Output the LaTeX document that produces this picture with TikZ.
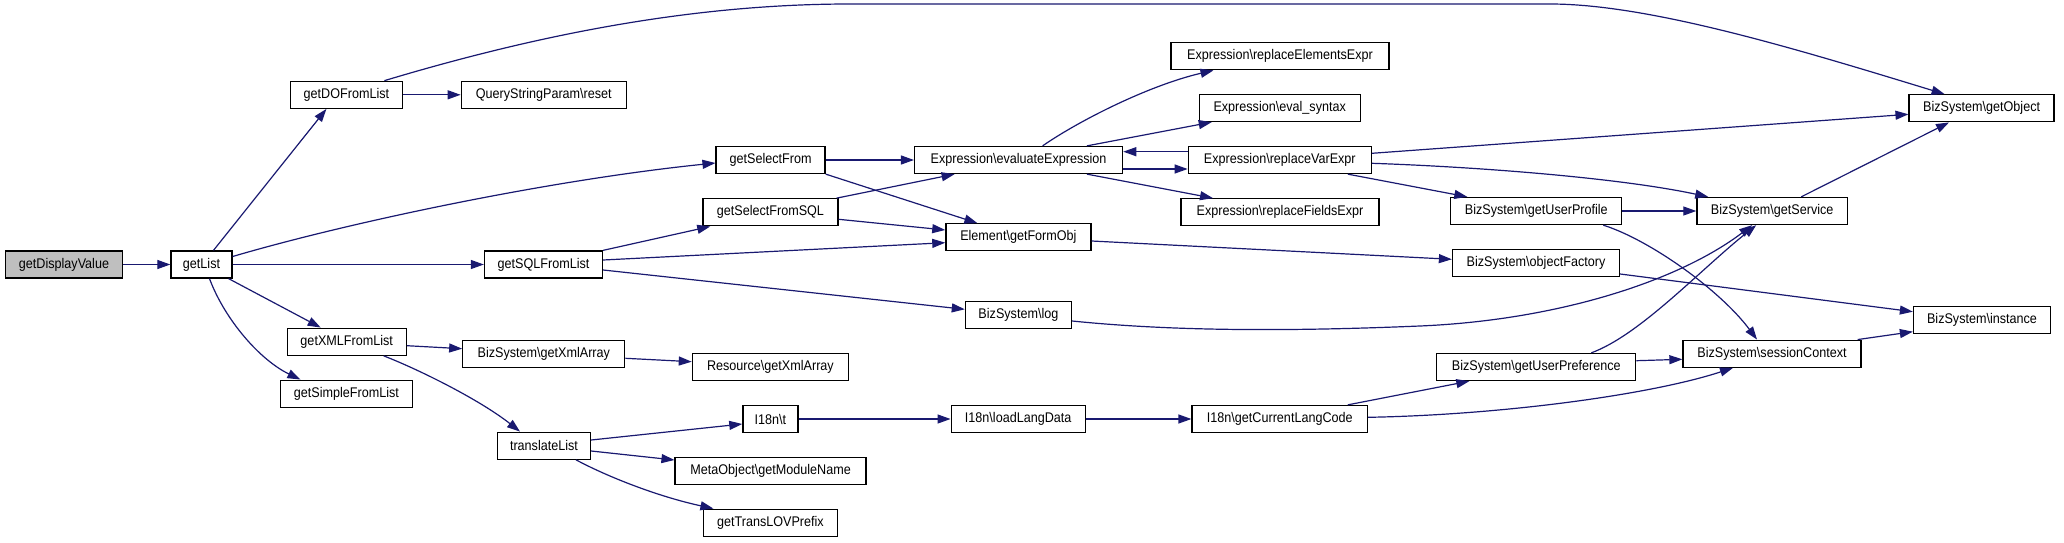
\documentclass[tikz,border=0pt]{standalone}
\usepackage{fontspec}
\setmainfont[FakeStretch=0.9]{Liberation Sans}
\usetikzlibrary{arrows.meta}
\definecolor{edgeblue}{HTML}{191970}
\definecolor{rootgray}{HTML}{BFBFBF}
\tikzset{
  box/.style={draw=black, line width=1.3pt, fill=white, minimum height=27pt, inner sep=0pt, font=\fontsize{14}{16}\selectfont},
  rootbox/.style={box, fill=rootgray},
  e/.style={draw=edgeblue, line width=1.2pt, -{Triangle[length=13pt,width=9pt]}}
}
\begin{document}
\begin{tikzpicture}[x=1pt,y=-1pt]
\useasboundingbox (0,0) rectangle (2064,543);
% nodes
\node[rootbox, minimum width=117] (gdv) at (64,264.5) {getDisplayValue};
\node[box, minimum width=61] (gl) at (201.5,264.5) {getList};
\node[box, minimum width=112] (gdo) at (346.4,94.8) {getDOFromList};
\node[box, minimum width=165] (qsp) at (543.8,94.8) {QueryStringParam\textbackslash reset};
\node[box, minimum width=118] (gsql) at (543.5,264.5) {getSQLFromList};
\node[box, minimum width=119] (gxml) at (346.7,341.7) {getXMLFromList};
\node[box, minimum width=132] (gsimple) at (346.4,393.7) {getSimpleFromList};
\node[box, minimum width=162] (bxml) at (543.8,353.7) {BizSystem\textbackslash getXmlArray};
\node[box, minimum width=93] (tl) at (544,445.7) {translateList};
\node[box, minimum width=109] (gsf) at (770.6,160) {getSelectFrom};
\node[box, minimum width=135] (gsfsql) at (770.4,212.3) {getSelectFromSQL};
\node[box, minimum width=208] (ee) at (1018.6,160) {Expression\textbackslash evaluateExpression};
\node[box, minimum width=145] (gfo) at (1018.4,237.3) {Element\textbackslash getFormObj};
\node[box, minimum width=106] (log) at (1018.4,315) {BizSystem\textbackslash log};
\node[box, minimum width=156] (rxml) at (770.4,367) {Resource\textbackslash getXmlArray};
\node[box, minimum width=55] (i18t) at (770.4,419) {I18n\textbackslash t};
\node[box, minimum width=191] (meta) at (770.6,471) {MetaObject\textbackslash getModuleName};
\node[box, minimum width=134] (glov) at (770.4,522.7) {getTransLOVPrefix};
\node[box, minimum width=134] (lld) at (1018.2,419) {I18n\textbackslash loadLangData};
\node[box, minimum width=218] (rex) at (1280,56.2) {Expression\textbackslash replaceElementsExpr};
\node[box, minimum width=161] (evs) at (1279.7,108) {Expression\textbackslash eval\_syntax};
\node[box, minimum width=183] (rve) at (1279.8,160) {Expression\textbackslash replaceVarExpr};
\node[box, minimum width=198] (rfe) at (1280,212.3) {Expression\textbackslash replaceFieldsExpr};
\node[box, minimum width=175.5] (gclc) at (1279.8,419) {I18n\textbackslash getCurrentLangCode};
\node[box, minimum width=145] (gobj) at (1981.6,108.3) {BizSystem\textbackslash getObject};
\node[box, minimum width=171] (gup) at (1536.3,211) {BizSystem\textbackslash getUserProfile};
\node[box, minimum width=150.5] (gsvc) at (1772.2,211) {BizSystem\textbackslash getService};
\node[box, minimum width=167] (of) at (1536,262.7) {BizSystem\textbackslash objectFactory};
\node[box, minimum width=137] (inst) at (1982,320) {BizSystem\textbackslash instance};
\node[box, minimum width=178] (sc) at (1772,353.7) {BizSystem\textbackslash sessionContext};
\node[box, minimum width=199] (gpref) at (1536.3,367) {BizSystem\textbackslash getUserPreference};
% edges
\draw[e] (gdv.east) -- (gl.west);
\draw[e] ([xshift=12]gl.north) -- ([xshift=-20]gdo.south);
\draw[e] ([yshift=8]gl.east) .. controls (350,222) and (550,180) .. ([yshift=-3]gsf.west);
\draw[e] (gl.east) -- (gsql.west);
\draw[e] ([xshift=-4]gl.south east) -- ([xshift=-26]gxml.north);
\draw[e] ([xshift=8]gl.south) .. controls (225,320) and (260,360) .. ([xshift=-46]gsimple.north);
\draw[e] (gdo.east) -- (qsp.west);
\draw[e] ([xshift=38]gdo.north) .. controls (520,40) and (680,4) .. (850,4) -- (1550,4) .. controls (1650,4) and (1800,50) .. ([xshift=-37]gobj.north);
\draw[e] (gsf.east) -- (ee.west);
\draw[e] (gsf.south east) -- ([xshift=-41]gfo.north);
\draw[e] (gsql.north east) -- ([xshift=8]gsfsql.south west);
\draw[e] ([yshift=4.5]gsql.east) -- ([yshift=-5.4]gfo.west);
\draw[e] ([yshift=-5.5]gsql.east) -- ([yshift=5.7]log.west);
\draw[e] ([xshift=-2]gsfsql.north east) -- ([xshift=-64]ee.south);
\draw[e] ([yshift=-7]gsfsql.east) -- ([yshift=7.3]gfo.west);
\draw[e] ([xshift=24]ee.north) .. controls (1080,120) and (1150,85) .. ([xshift=-66.5]rex.south);
\draw[e] ([xshift=68.4]ee.north) -- ([xshift=-68]evs.south);
\draw[e] ([yshift=-9]ee.east) -- ([yshift=-9]rve.west);
\draw[e] ([yshift=8.3]rve.west) -- ([yshift=8.3]ee.east);
\draw[e] ([xshift=68.4]ee.south) -- ([xshift=-67]rfe.north);
\draw[e] ([yshift=-3.7]gfo.east) -- ([yshift=3.4]of.west);
\draw[e] ([yshift=6.7]rve.east) -- ([yshift=-6]gobj.west);
\draw[e] ([yshift=-3.3]rve.east) .. controls (1480,167) and (1620,178) .. ([xshift=-64]gsvc.north);
\draw[e] ([xshift=68]rve.south) -- ([xshift=-69]gup.north);
\draw[e] (gup.east) -- (gsvc.west);
\draw[e] ([xshift=67]gup.south) .. controls (1650,240) and (1720,290) .. ([xshift=-15]sc.north);
\draw[e] ([xshift=29]gsvc.north) -- ([xshift=-32.6]gobj.south);
\draw[e] ([yshift=-6]log.east) .. controls (1180,332) and (1300,331) .. (1420,326) .. controls (1560,320) and (1680,280) .. ([xshift=-20]gsvc.south);
\draw[e] ([yshift=-11.3]of.east) -- ([yshift=8.3]inst.west);
\draw[e] ([xshift=55]gpref.north) .. controls (1640,335) and (1700,270) .. ([xshift=-16]gsvc.south);
\draw[e] ([yshift=6.3]gpref.east) -- ([yshift=-5.6]sc.west);
\draw[e] ([xshift=-4]sc.north east) -- ([yshift=-11.7]inst.west);
\draw[e] ([xshift=68]gclc.north) -- ([xshift=-67]gpref.south);
\draw[e] ([yshift=1.7]gclc.east) .. controls (1500,415) and (1650,395) .. ([xshift=-39]sc.south);
\draw[e] ([yshift=-4]gxml.east) -- ([yshift=5]bxml.west);
\draw[e] ([xshift=37]gxml.south) .. controls (420,370) and (480,400) .. ([xshift=-24]tl.north);
\draw[e] ([yshift=-4.6]bxml.east) -- ([yshift=5.3]rxml.west);
\draw[e] ([yshift=5.7]tl.east) -- ([yshift=-5]i18t.west);
\draw[e] ([yshift=-5.3]tl.east) -- ([yshift=11]meta.west);
\draw[e] ([xshift=32]tl.south) .. controls (610,478) and (660,497) .. ([xshift=-57]glov.north);
\draw[e] (i18t.east) -- (lld.west);
\draw[e] (lld.east) -- (gclc.west);
\end{tikzpicture}
\end{document}
